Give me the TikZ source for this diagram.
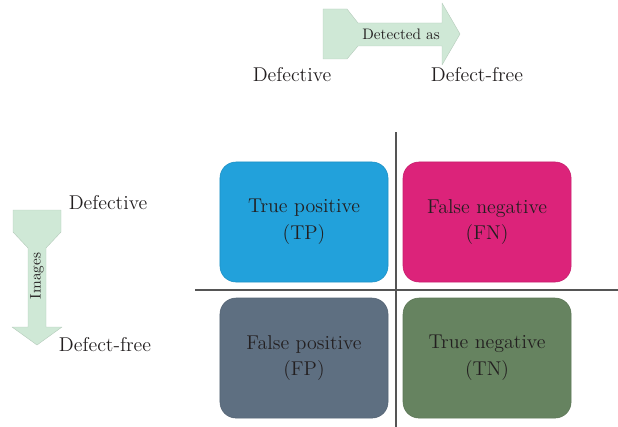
\documentclass[tikz,border=0pt]{standalone}
\usepackage{xcolor}
\usepackage{tikz}
\usetikzlibrary{positioning}
\definecolor{tpblue}{HTML}{22A1DB}
\definecolor{fnpink}{HTML}{DC237A}
\definecolor{fpslate}{HTML}{5E6F81}
\definecolor{tngreen}{HTML}{668360}
\definecolor{arrowfill}{HTML}{CFE8D6}
\definecolor{inkdark}{HTML}{231F20}
\definecolor{divider}{HTML}{555555}
\newcommand{\cellfont}{\fontsize{14.2}{19}\selectfont}
\newcommand{\tagfont}{\fontsize{10.8}{12}\selectfont}

\begin{document}
\begin{tikzpicture}[
  x=0.025cm, y=-0.025cm,
  node distance=0.4cm and 0.375cm,
  cell/.style={rectangle, rounded corners=0.4cm, minimum width=4.2cm,
    minimum height=3cm, inner sep=0pt, outer sep=0pt, align=center,
    text=inkdark, font=\cellfont},
  axislabel/.style={text=inkdark, font=\cellfont},
  arrowtag/.style={text=inkdark, font=\tagfont, inner sep=1pt},
  blockarrow/.style={fill=arrowfill, draw=arrowfill!88!black,
    line width=0.3pt, line join=round},
  divline/.style={draw=divider, line width=0.9pt}
]
  \useasboundingbox (0,0) rectangle (618,427);

  % matrix cells
  \node[cell, fill=tpblue, draw=tpblue!90!black] (TP) at (304,222)
    {True positive\\(TP)};
  \node[cell, fill=fnpink, draw=fnpink!90!black, right=of TP] (FN)
    {False negative\\(FN)};
  \node[cell, fill=fpslate, draw=fpslate!90!black, below=of TP] (FP)
    {False positive\\(FP)};
  \node[cell, fill=tngreen, draw=tngreen!90!black, below=of FN] (TN)
    {True negative\\(TN)};

  % dividers
  \coordinate (hWest) at (195,290);
  \coordinate (hEast) at (618,290);
  \coordinate (vNorth) at (396,132);
  \coordinate (vSouth) at (396,427);
  \draw[divline] (hWest) -- (hEast);
  \draw[divline] (vNorth) -- (vSouth);

  % detected-as arrow
  \path[blockarrow] (323,9) -- (347,9) -- (358,23) -- (442,23) -- (442,3)
    -- (460,34) -- (442,65) -- (442,46) -- (358,46) -- (347,59)
    -- (323,59) -- cycle;
  \node[arrowtag] (detected) at (401,34) {Detected as};

  % images arrow
  \path[blockarrow] (13,210) -- (61,210) -- (61,232) -- (46,248)
    -- (46,327) -- (62,327) -- (37,345) -- (12,327) -- (28,327)
    -- (28,248) -- (13,232) -- cycle;
  \node[arrowtag, rotate=90] (images) at (37,276) {Images};

  % class labels
  \node[axislabel] (colDef) at (292,75) {Defective};
  \node[axislabel] (colFree) at (477,75) {Defect-free};
  \node[axislabel] (rowDef) at (108,203) {Defective};
  \node[axislabel] (rowFree) at (105,345) {Defect-free};
\end{tikzpicture}
\end{document}
